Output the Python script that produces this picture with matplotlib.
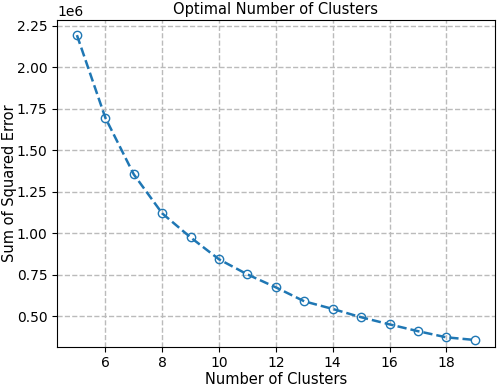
import numpy as np
import matplotlib
matplotlib.use('Agg')
import matplotlib.pyplot as plt

# number of clusters vs SSE (elbow curve)
clusters = [5, 6, 7, 8, 9, 10, 11, 12, 13, 14, 15, 16, 17, 18, 19]
sse = [2.194e6, 1.696e6, 1.355e6, 1.120e6, 0.975e6, 0.843e6, 0.752e6,
       0.674e6, 0.590e6, 0.544e6, 0.494e6, 0.451e6, 0.410e6, 0.373e6, 0.357e6]

fig = plt.figure(figsize=(4.98, 3.86), dpi=100)
ax = fig.add_axes([0.1145, 0.102, 0.879, 0.847])

ax.plot(clusters, sse, linestyle='--', marker='o', markerfacecolor='none',
        markersize=6, color='tab:blue', linewidth=1.8)

ax.set_title('Optimal Number of Clusters', fontsize=10.5, pad=4)
ax.set_xlabel('Number of Clusters', fontsize=10.5, labelpad=1.5)
ax.set_ylabel('Sum of Squared Error', fontsize=10.5, labelpad=0)
ax.set_xticks([6, 8, 10, 12, 14, 16, 18])
ax.set_ylim(0.317e6, 2.287e6)
ax.grid(True, linestyle='--', color='#bbbbbb', linewidth=1)

fig.savefig('out.png')
